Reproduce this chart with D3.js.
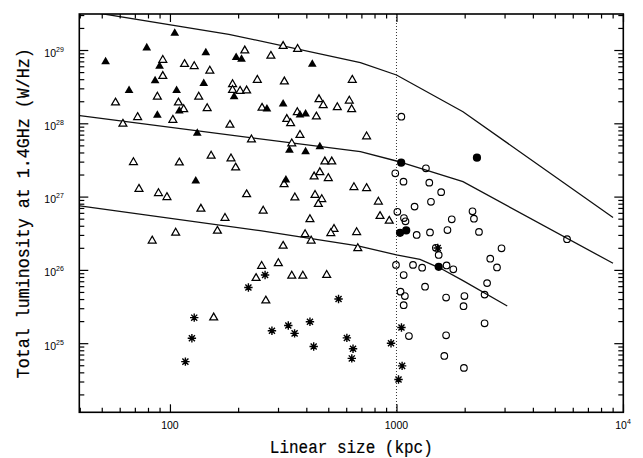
<!DOCTYPE html>
<html>
<head>
<meta charset="utf-8">
<script src="https://cdn.jsdelivr.net/npm/d3@7"></script>
<style>
  html, body { margin: 0; padding: 0; background: #fff; }
  svg { display: block; }
</style>
</head>
<body>
<svg id="chart" width="643" height="458"></svg>
<script>
// Linear size (kpc) and total luminosity at 1.4 GHz (W/Hz) for each source group

// filled triangles
const solidTriSize = [52, 66, 79, 90, 86, 88, 105, 107, 110, 132, 144, 141, 196, 207, 192,
  425, 316, 268, 375, 397, 337, 397, 459, 325, 130];
const solidTriLum = [6.9e28, 2.8e28, 1.07e29, 6.0e28, 3.8e28, 1.29e28, 1.69e29, 2.8e28, 1.47e28,
  7.3e27, 9.2e28, 3.5e28, 7.9e28, 7.5e28, 2.3e28, 6.4e28, 1.83e28, 1.57e28, 1.30e28, 1.34e28,
  4.3e27, 4.1e27, 4.8e27, 1.68e27, 1.63e27];

// open triangles
const openTriSize = [214, 93, 116, 128, 150, 93, 189, 189, 204, 218, 243, 88, 134, 57.5, 109,
  146, 115, 72, 103, 62, 184, 229, 152, 186, 316, 366, 279, 320, 638, 455,
  619, 475, 548, 634, 255, 365, 443, 328, 341, 375, 738, 345, 483, 518, 459,
  433, 500, 319, 218, 356, 437, 468, 452, 649, 738, 832, 258, 846, 929, 415,
  530, 513, 395, 667, 420, 316, 675, 254, 301, 240, 345, 386, 492, 265, 69,
  73, 89, 97, 110, 195, 137, 175, 162, 106, 83.5, 156];
const openTriLum = [9.8e28, 7.3e28, 6.4e28, 6.0e28, 5.2e28, 4.4e28, 3.4e28, 2.84e28, 2.76e28, 2.79e28,
  3.9e28, 2.3e28, 2.3e28, 1.91e28, 1.91e28, 1.60e28, 1.55e28, 1.21e28, 1.11e28, 9.8e27,
  9.5e27, 6.0e27, 3.6e27, 3.3e27, 1.13e29, 1.03e29, 8.3e28, 3.7e28, 3.9e28, 2.12e28,
  2.03e28, 1.76e28, 1.65e28, 1.55e28, 1.62e28, 1.41e28, 1.23e28, 1.14e28, 1.0e28, 6.9e27,
  6.6e27, 5.3e27, 3.0e27, 3.0e27, 2.14e27, 1.87e27, 1.78e27, 1.47e27, 1.07e27, 9.7e26,
  1.05e27, 9.2e26, 7.9e26, 1.34e27, 1.30e27, 8.5e26, 6.4e26, 5.4e26, 4.65e26, 4.9e26,
  3.6e26, 3.16e26, 3.06e26, 3.26e26, 2.5e26, 2.12e26, 1.97e26, 1.13e26, 1.23e26, 7.7e25,
  8.3e25, 8.3e25, 8.5e25, 3.8e25, 2.94e27, 1.27e27, 1.11e27, 9.8e26, 2.9e27, 2.48e27,
  6.8e26, 5.1e26, 3.4e26, 3.2e26, 2.5e26, 2.23e25];

// open circles
const openCircleSize = [1051, 988, 1074, 1349, 1396, 1575, 1420, 1202, 1009, 1079, 1096,
  2166, 2198, 1754, 1228, 1406, 1679, 2313, 2909, 2594, 2778, 1492, 1536, 995, 1183,
  1298, 1664, 1782, 1076, 2512, 2449, 1337, 1042, 1089, 1076, 1656, 1995, 1977, 2449,
  1135, 1656, 1626, 1985, 5662];
const openCircleLum = [1.23e28, 2.08e27, 1.60e27, 2.43e27, 1.55e27, 1.15e27, 8.5e26, 7.3e26, 6.2e26,
  5.1e26, 4.6e26, 6.3e26, 5.0e26, 4.9e26, 3.0e26, 3.24e26, 3.5e26, 3.3e26, 1.97e26, 1.42e26,
  1.08e26, 2.0e26, 1.6e26, 1.17e26, 1.17e26, 1.07e26, 1.15e26, 1.02e26, 8.5e25, 6.6e25,
  4.6e25, 5.9e25, 5.05e25, 4.4e25, 3.3e25, 4.2e25, 4.4e25, 3.2e25, 1.87e25, 1.25e25,
  1.28e25, 6.7e24, 4.6e24, 2.62e26];

// filled circles
const solidCircleSize = [1049, 2266, 1037, 1104, 1536];
const solidCircleLum = [2.9e27, 3.4e27, 3.2e26, 3.46e26, 1.1e26];

// asterisks
const starSize = [128, 125, 117, 222, 263, 555, 282, 333, 355, 415, 431, 604, 643, 635,
  946, 1052, 1059, 1021, 1521];
const starLum = [2.23e25, 1.17e25, 5.6e24, 5.75e25, 8.5e25, 4.0e25, 1.48e25, 1.74e25, 1.36e25,
  1.96e25, 9.0e24, 1.18e25, 8.4e24, 6.2e24, 1.0e25, 1.64e25, 4.9e24, 3.2e24, 1.99e26];

// model evolutionary tracks (size, luminosity vertices)
const upperTrackSize = [40, 182, 693, 1000, 1966, 9036];
const upperTrackLum = [3.5e29, 1.64e29, 6.71e28, 4.56e28, 1.44e28, 5.19e26];
const middleTrackSize = [40, 693, 1000, 1966, 9036];
const middleTrackLum = [1.27e28, 4.10e27, 3.06e27, 1.60e27, 1.23e26];
const lowerTrackSize = [40, 250, 676, 1000, 1270, 1556, 1966, 3083];
const lowerTrackLum = [7.45e26, 3.43e26, 2.12e26, 1.60e26, 1.39e26, 1.06e26, 7.13e25, 3.21e25];

// size of 1 Mpc, marked with a dotted line
const dividerSize = 1000;

// tick values
const xMajor = [100, 1000, 10000];
const yMajor = [1e25, 1e26, 1e27, 1e28, 1e29];

const xTitle = "Linear size (kpc)";
const yTitle = "Total luminosity at 1.4GHz (W/Hz)";

// ---- layout ----
const box = { left: 79.3, right: 623.3, top: 14, bottom: 412.3 };
const x = d3.scaleLog().domain([39.8, 10030]).range([box.left, box.right]);
const y = d3.scaleLog().domain([1.14e24, 3.1e29]).range([box.bottom, box.top]);

const svg = d3.select("#chart");
svg.append("rect").attr("width", 643).attr("height", 458).attr("fill", "#fff");

svg.append("clipPath").attr("id", "plotclip")
  .append("rect")
  .attr("x", box.left).attr("y", box.top)
  .attr("width", box.right - box.left).attr("height", box.bottom - box.top);

const plot = svg.append("g").attr("clip-path", "url(#plotclip)");

// tracks
const line = d3.line().x(d => x(d[0])).y(d => y(d[1]));
[[upperTrackSize, upperTrackLum], [middleTrackSize, middleTrackLum], [lowerTrackSize, lowerTrackLum]]
  .forEach(([s, l]) => {
    plot.append("path")
      .datum(d3.zip(s, l))
      .attr("d", line)
      .attr("fill", "none")
      .attr("stroke", "#111")
      .attr("stroke-width", 1.3);
  });

// dotted 1 Mpc divider
plot.append("line")
  .attr("x1", x(dividerSize)).attr("x2", x(dividerSize))
  .attr("y1", y.range()[1]).attr("y2", y.range()[0])
  .attr("stroke", "#333")
  .attr("stroke-width", 1)
  .attr("stroke-dasharray", "1,2");

// markers
const tri = d3.symbol().type(d3.symbolTriangle);
const starPath = (r => {
  const d = r * 0.72;
  return `M0,${-r}L0,${r}M${-r},0L${r},0M${-d},${-d}L${d},${d}M${-d},${d}L${d},${-d}`;
})(4.2);

function place(sel, sizes, lums) {
  return sel.data(d3.zip(sizes, lums)).join("g")
    .attr("transform", d => `translate(${x(d[0])},${y(d[1])})`);
}

place(plot.append("g").selectAll("g"), openTriSize, openTriLum)
  .append("path")
  .attr("d", tri.size(27)())
  .attr("fill", "#fff")
  .attr("stroke", "#000")
  .attr("stroke-width", 1.25)
  .attr("stroke-linejoin", "miter");

place(plot.append("g").selectAll("g"), solidTriSize, solidTriLum)
  .append("path")
  .attr("d", tri.size(33)())
  .attr("fill", "#000");

place(plot.append("g").selectAll("g"), openCircleSize, openCircleLum)
  .append("circle")
  .attr("r", 3.3)
  .attr("fill", "none")
  .attr("stroke", "#000")
  .attr("stroke-width", 1.15);

place(plot.append("g").selectAll("g"), solidCircleSize, solidCircleLum)
  .append("circle")
  .attr("r", 4.1)
  .attr("fill", "#000");

const stars = place(plot.append("g").selectAll("g"), starSize, starLum);
stars.append("path")
  .attr("d", starPath)
  .attr("stroke", "#000")
  .attr("stroke-width", 1.4)
  .attr("fill", "none");
stars.append("circle").attr("r", 1.4).attr("fill", "#000");

// ---- axes: inward ticks on all four sides ----
const isDecade = v => Math.abs(Math.log10(v) - Math.round(Math.log10(v))) < 1e-6;
const xMinor = x.ticks().filter(v => !isDecade(v));
const yMinor = y.ticks().filter(v => !isDecade(v));

function ticks(axisFn, scale, values, len, tx, ty) {
  svg.append("g")
    .attr("transform", `translate(${tx},${ty})`)
    .call(axisFn(scale).tickValues(values).tickSize(-len).tickSizeOuter(0).tickFormat(""))
    .call(g => g.select(".domain").remove())
    .call(g => g.selectAll("line").attr("stroke", "#000").attr("stroke-width", 1.2));
}
ticks(d3.axisBottom, x, xMajor, 8, 0, box.bottom);
ticks(d3.axisBottom, x, xMinor, 4.5, 0, box.bottom);
ticks(d3.axisTop, x, xMajor, 8, 0, box.top);
ticks(d3.axisTop, x, xMinor, 4.5, 0, box.top);
ticks(d3.axisLeft, y, yMajor, 9, box.left, 0);
ticks(d3.axisLeft, y, yMinor, 5, box.left, 0);
ticks(d3.axisRight, y, yMajor, 9, box.right, 0);
ticks(d3.axisRight, y, yMinor, 5, box.right, 0);

// frame
svg.append("rect")
  .attr("x", box.left).attr("y", box.top)
  .attr("width", box.right - box.left).attr("height", box.bottom - box.top)
  .attr("fill", "none")
  .attr("stroke", "#000")
  .attr("stroke-width", 1.6);

// ---- tick labels ----
const labelFont = "'Liberation Sans', Arial, Helvetica, sans-serif";
function powerLabel(textSel, exp) {
  textSel.append("tspan").text("10");
  textSel.append("tspan").attr("dy", -5).attr("font-size", 7).text(exp);
}

svg.append("g").selectAll("text").data(yMajor).join("text")
  .attr("x", box.left - 15.5)
  .attr("y", d => y(d) + 6.5)
  .attr("text-anchor", "end")
  .attr("font-family", labelFont)
  .attr("font-size", 10.5)
  .attr("fill", "#000")
  .each(function (d) { powerLabel(d3.select(this), Math.round(Math.log10(d))); });

svg.append("g").selectAll("text").data(xMajor).join("text")
  .attr("x", d => x(d))
  .attr("y", 429.3)
  .attr("text-anchor", "middle")
  .attr("font-family", labelFont)
  .attr("font-size", 10.5)
  .attr("fill", "#000")
  .each(function (d) {
    const t = d3.select(this);
    if (d < 1e4) t.text(d3.format("d")(d));
    else powerLabel(t, Math.round(Math.log10(d)));
  });

// ---- axis titles ----
const titleFont = "'Liberation Mono', 'Courier New', monospace";
svg.append("text")
  .attr("x", (box.left + box.right) / 2)
  .attr("y", 452.5)
  .attr("text-anchor", "middle")
  .attr("font-family", titleFont)
  .attr("font-size", 18)
  .attr("textLength", 163)
  .attr("lengthAdjust", "spacingAndGlyphs")
  .attr("fill", "#000")
  .attr("stroke", "#000")
  .attr("stroke-width", 0.2)
  .text(xTitle);

svg.append("text")
  .attr("transform", `translate(29,${(box.top + box.bottom) / 2}) rotate(-90)`)
  .attr("text-anchor", "middle")
  .attr("font-family", titleFont)
  .attr("font-size", 17.5)
  .attr("textLength", 330)
  .attr("lengthAdjust", "spacingAndGlyphs")
  .attr("fill", "#000")
  .attr("stroke", "#000")
  .attr("stroke-width", 0.2)
  .text(yTitle);
</script>
</body>
</html>
